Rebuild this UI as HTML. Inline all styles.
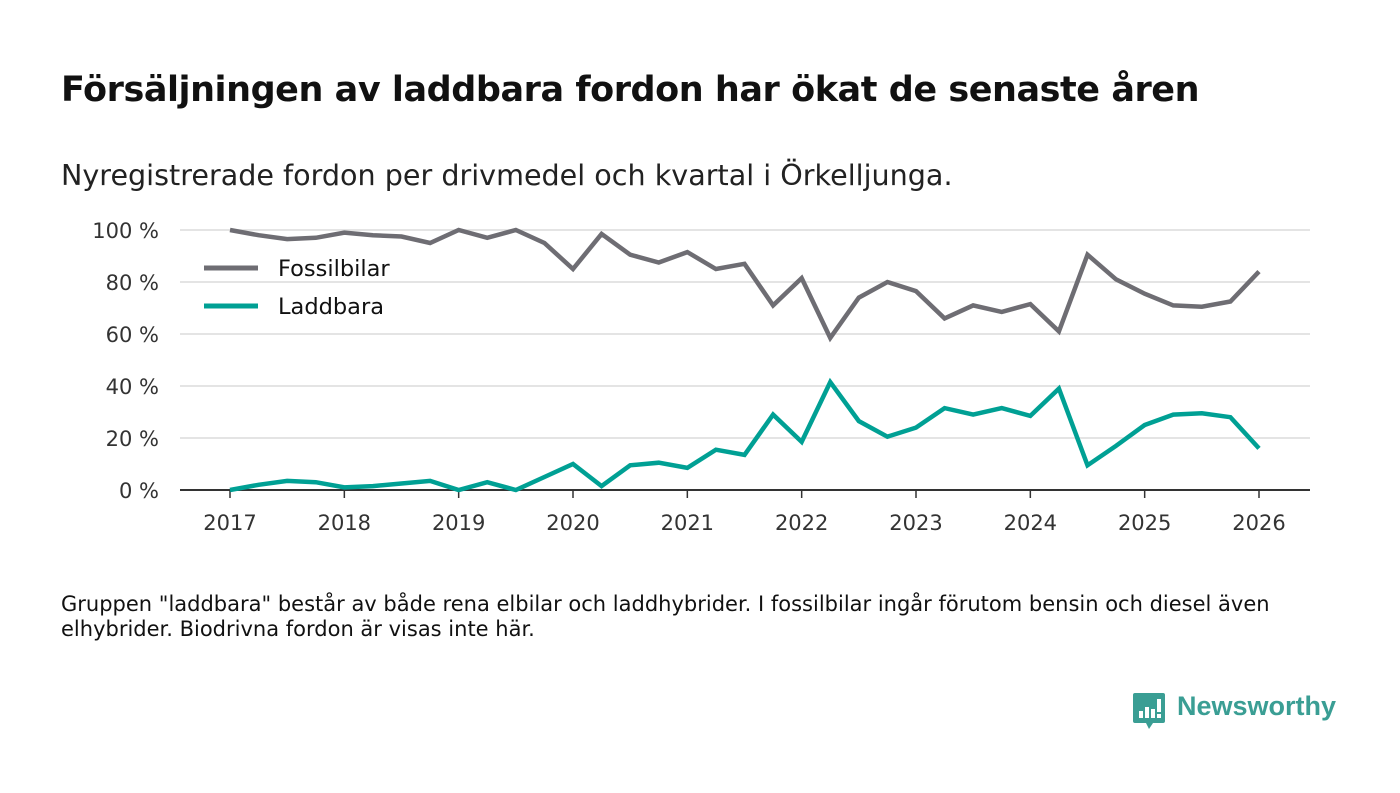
<!DOCTYPE html>
<html><head><meta charset="utf-8"><style>
body{margin:0;background:#fff;font-family:"DejaVu Sans","Liberation Sans",sans-serif;}
.wrap{position:relative;width:1400px;height:793px;overflow:hidden;}
h1{position:absolute;left:61px;top:70px;margin:0;font-size:35px;font-weight:bold;color:#111;letter-spacing:-0.45px;}
.sub{position:absolute;left:61px;top:158px;font-size:28.6px;color:#222;}
.note{position:absolute;left:61px;top:592px;font-size:21px;color:#111;line-height:25px;width:1265px;}
.logo{position:absolute;left:1133px;top:693px;}
.logotext{position:absolute;left:1177px;top:691px;font-size:27px;color:#3a9e94;font-weight:bold;font-family:"Liberation Sans",sans-serif;}
</style></head><body>
<div class="wrap">
<h1>Försäljningen av laddbara fordon har ökat de senaste åren</h1>
<div class="sub">Nyregistrerade fordon per drivmedel och kvartal i Örkelljunga.</div>
<svg id="chart" width="1400" height="793" style="position:absolute;left:0;top:0"></svg>
<div class="note">Gruppen "laddbara" består av både rena elbilar och laddhybrider. I fossilbilar ingår förutom bensin och diesel även elhybrider. Biodrivna fordon är visas inte här.</div>
<svg class="logo" width="34" height="40"><path d="M0 2 Q0 0 2 0 L30 0 Q32 0 32 2 L32 28 Q32 30 30 30 L20 30 L16 36 L13 30 L2 30 Q0 30 0 28Z" fill="#3a9e94"/><rect x="6" y="18" width="4" height="7" fill="#fff"/><rect x="12" y="14" width="4" height="11" fill="#fff"/><rect x="18" y="16" width="4" height="9" fill="#fff"/><rect x="24" y="6" width="4" height="13" fill="#fff"/><rect x="24" y="21" width="4" height="4" fill="#fff"/></svg>
<div class="logotext">Newsworthy</div>
</div>
<script>
const fossil=[100,98,96.5,97,99,98,97.5,95,100,97,100,95,85,98.5,90.5,87.5,91.5,85,87,71,81.5,58.5,74,80,76.5,66,71,68.5,71.5,61,90.5,81,75.5,71,70.5,72.5,84];
const laddbara=[0,2,3.5,3,1,1.5,2.5,3.5,0,3,0,5,10,1.5,9.5,10.5,8.5,15.5,13.5,29,18.5,41.5,26.5,20.5,24,31.5,29,31.5,28.5,39,9.5,17,25,29,29.5,28,16];
const yTicks=[0,20,40,60,80,100];
const xYears=[2017,2018,2019,2020,2021,2022,2023,2024,2025,2026];
const svg=document.getElementById('chart');
const NS='http://www.w3.org/2000/svg';
const FF='DejaVu Sans, Liberation Sans, sans-serif';
const x=t=>230+(t-2017)*(1259-230)/9;
const y=v=>490-v*2.6;
function mk(tag,a){const e=document.createElementNS(NS,tag);for(const k in a)e.setAttribute(k,a[k]);svg.appendChild(e);return e;}
yTicks.forEach(v=>{
 if(v>0){const g=mk('line',{x1:180,x2:1310,y1:y(v),y2:y(v),stroke:'#dcdcdc','stroke-width':1.5});
 
 }
 const t=mk('text',{x:159,y:y(v)+8,'text-anchor':'end','font-size':21,fill:'#333','font-family':FF});
 t.textContent=v+' %';
 
 
});
const ax=mk('line',{x1:180,x2:1310,y1:490,y2:490,stroke:'#333','stroke-width':2});


xYears.forEach(yr=>{
 const tk=mk('line',{x1:x(yr),x2:x(yr),y1:490,y2:498,stroke:'#333','stroke-width':1.5});
 
 
 const t=mk('text',{x:x(yr),y:530,'text-anchor':'middle','font-size':21,fill:'#333','font-family':FF});
 t.textContent=yr;
 
 
});
function line(arr,col,name){
 const pts=arr.map((v,i)=>x(2017+i/4)+','+y(v)).join(' ');
 const p=mk('polyline',{points:pts,fill:'none',stroke:col,'stroke-width':4.5,'stroke-linejoin':'miter'});
 
 
}
line(fossil,'#6e6d73','fossilbilar-line');
line(laddbara,'#00a094','laddbara-line');
const lb=mk('rect',{x:196,y:253,width:210,height:28,fill:'#fff'});


[['Fossilbilar','#6e6d73',268],['Laddbara','#00a094',306]].forEach(([n,c,yy])=>{
 const l=mk('line',{x1:204,x2:258,y1:yy,y2:yy,stroke:c,'stroke-width':5});
 
 
 const t=mk('text',{x:278,y:yy+8,'font-size':22.5,fill:'#111','font-family':FF});
 t.textContent=n;
 
 
});
</script>
</body></html>
